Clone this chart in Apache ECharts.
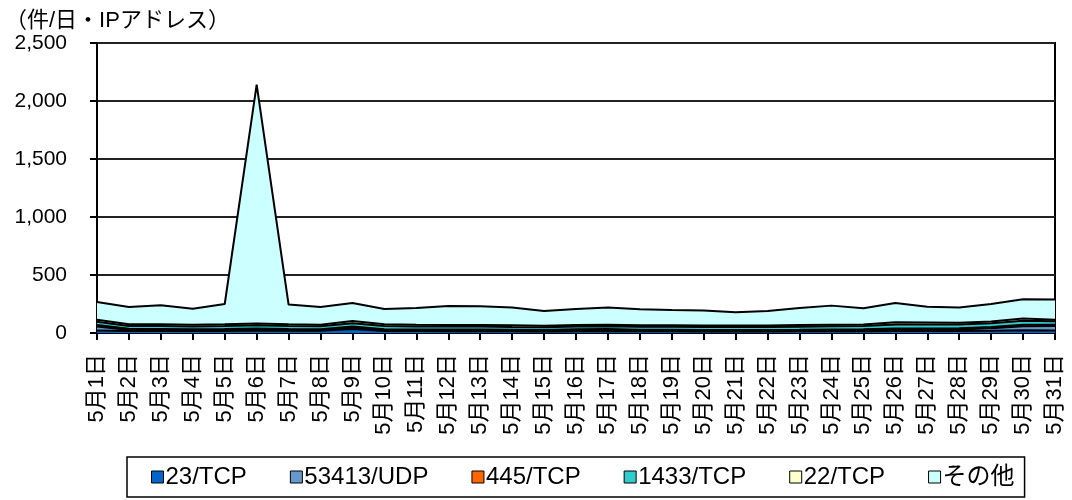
<!DOCTYPE html>
<html>
<head>
<meta charset="utf-8">
<script src="https://cdn.jsdelivr.net/npm/echarts@6/dist/echarts.min.js"></script>
<style>
  html, body { margin: 0; padding: 0; background: #fff; }
  #chart { width: 1072px; height: 500px; }
</style>
</head>
<body>
<div id="chart"></div>
<script>
const days = [];
for (let d = 1; d <= 31; d++) days.push('5月' + d + '日');

const tcp23 = [22, 18, 18, 17, 18, 22, 20, 20, 35, 18, 17, 16, 16, 15, 14, 15, 16, 15, 15, 14, 14, 14, 15, 16, 16, 18, 17, 17, 20, 24, 22];
const udp53413 = [35, 8, 6, 5, 5, 5, 4, 4, 10, 5, 4, 4, 4, 3, 3, 3, 3, 3, 3, 3, 3, 3, 4, 5, 6, 8, 10, 14, 22, 35, 38];
const tcp445 = [12, 10, 10, 10, 11, 12, 10, 9, 12, 10, 10, 10, 10, 9, 8, 14, 16, 11, 10, 9, 9, 9, 9, 10, 10, 12, 11, 10, 10, 12, 11];
const tcp1433 = [28, 24, 26, 25, 26, 27, 26, 25, 28, 27, 26, 26, 26, 25, 24, 23, 24, 24, 25, 25, 25, 25, 26, 27, 28, 36, 35, 32, 32, 35, 30];
const tcp22 = [18, 15, 15, 15, 15, 16, 15, 14, 18, 15, 15, 14, 14, 14, 13, 13, 13, 13, 13, 13, 13, 13, 14, 14, 14, 18, 17, 15, 16, 18, 14];
const others = [152, 149, 164, 138, 175, 2059, 170, 152, 156, 132, 144, 163, 160, 153, 128, 139, 147, 138, 132, 129, 114, 126, 148, 164, 139, 167, 137, 131, 150, 166, 173];

const seriesNames = ['23/TCP', '53413/UDP', '445/TCP', '1433/TCP', '22/TCP', 'その他'];
const seriesColors = ['#0066CC', '#6699CC', '#FF6600', '#33CCCC', '#FFFFCC', '#CCFFFF'];
const seriesData = [tcp23, udp53413, tcp445, tcp1433, tcp22, others];

const font = "'Liberation Sans', 'Noto Sans CJK JP', sans-serif";

const chart = echarts.init(document.getElementById('chart'));

const series = seriesNames.map((name, i) => ({
  name: name,
  type: 'line',
  stack: 'total',
  data: seriesData[i],
  symbol: 'none',
  smooth: false,
  itemStyle: { color: seriesColors[i], borderColor: '#000', borderWidth: 1 },
  lineStyle: { color: '#000', width: 2 },
  areaStyle: { color: seriesColors[i], opacity: 1 },
  emphasis: { disabled: true },
  animation: false,
}));

chart.setOption({
  backgroundColor: '#fff',
  animation: false,
  textStyle: { fontFamily: font },
  title: {
    text: '（件/日・IPアドレス）',
    left: 0,
    top: 5,
    textStyle: { fontSize: 22, fontWeight: 'normal', color: '#000', fontFamily: font },
  },
  grid: {
    left: 97,
    right: 17,
    top: 43,
    bottom: 167,
    show: true,
    borderColor: '#000',
    borderWidth: 2,
    backgroundColor: 'transparent',
  },
  legend: {
    bottom: 3,
    left: 127,
    data: seriesNames,
    icon: 'rect',
    itemWidth: 12,
    itemHeight: 12,
    itemGap: 43,
    padding: [8, 10, 8, 24],
    borderColor: '#000',
    borderWidth: 1.5,
    itemStyle: { borderColor: '#000', borderWidth: 1 },
    textStyle: { fontSize: 24, color: '#000', fontFamily: font, padding: [0, 0, 0, -3] },
  },
  xAxis: {
    type: 'category',
    data: days,
    boundaryGap: false,
    axisLine: { lineStyle: { color: '#000', width: 2 } },
    axisTick: { show: true, interval: 0, length: 7, lineStyle: { color: '#000', width: 2 } },
    axisLabel: { interval: 0, rotate: 90, margin: 21, fontSize: 22, color: '#000', fontFamily: font },
    splitLine: { show: false },
  },
  yAxis: {
    type: 'value',
    min: 0,
    max: 2500,
    interval: 500,
    axisLine: { show: true, lineStyle: { color: '#000', width: 2 } },
    axisTick: { show: true, length: 7, lineStyle: { color: '#000', width: 2 } },
    axisLabel: {
      margin: 30,
      fontSize: 21,
      color: '#000',
      fontFamily: font,
      formatter: v => v.toLocaleString('en-US'),
    },
    splitLine: { show: true, lineStyle: { color: '#222', width: 2 } },
  },
  series: series,
});
</script>
</body>
</html>
